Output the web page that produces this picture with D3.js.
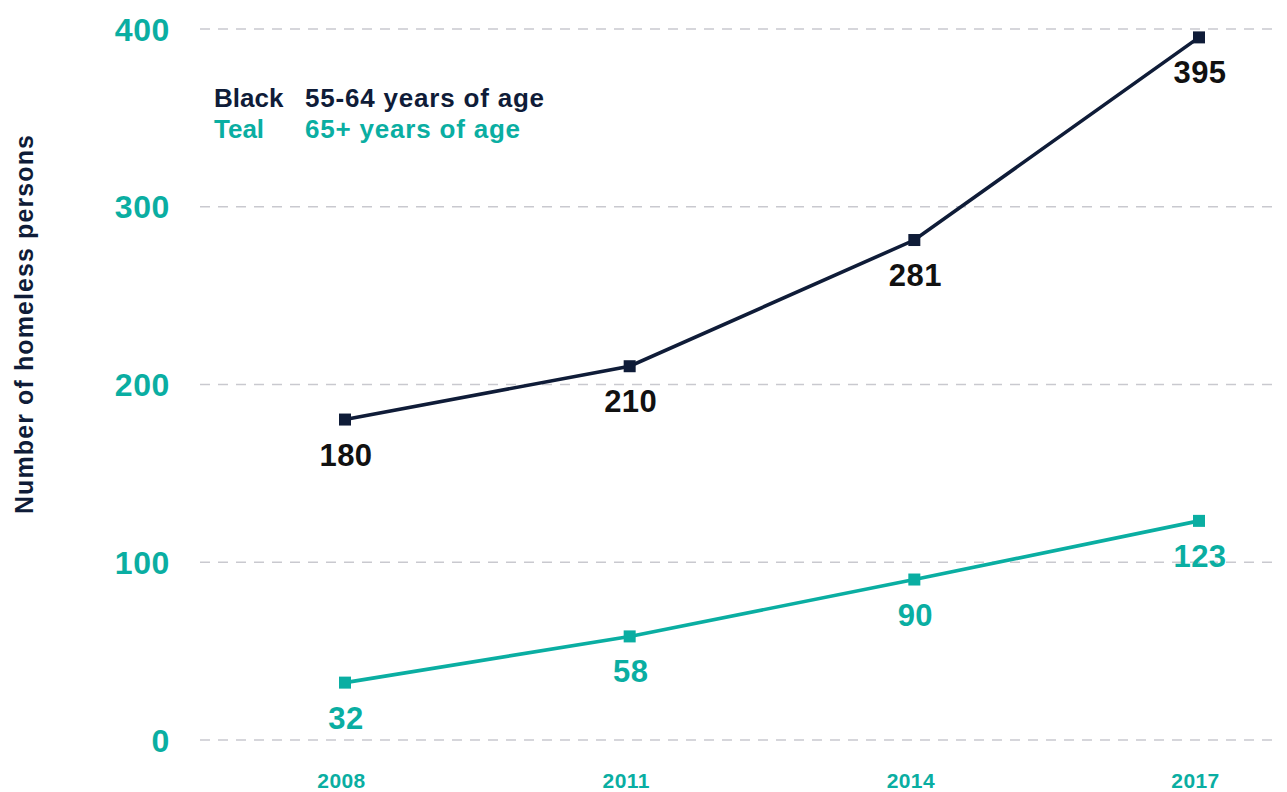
<!DOCTYPE html>
<html>
<head>
<meta charset="utf-8">
<script src="https://cdn.jsdelivr.net/npm/d3@7"></script>
<style>
  html, body { margin: 0; padding: 0; background: #fff; }
  svg { display: block; font-family: "Liberation Sans", Arial, sans-serif; }
</style>
</head>
<body>
<svg id="chart" width="1287" height="792"></svg>
<script>
const years = [2008, 2011, 2014, 2017];
const age55to64 = [180, 210, 281, 395];
const age65plus = [32, 58, 90, 123];
const yTicks = [0, 100, 200, 300, 400];
const legendKeys = ["Black", "Teal"];
const legendLabels = ["55-64 years of age", "65+ years of age"];
const yTitle = "Number of homeless persons";

const NAVY = "#0f1c38";
const TEAL = "#0aaea2";
const GRID = "#c9c9cf";
const FONT = "'Liberation Sans', Arial, sans-serif";

const svg = d3.select("#chart");

const x = d3.scalePoint().domain(years).range([345, 1199]);
const y = d3.scaleLinear().domain([0, 400]).range([739.5, 28.5]);

// gridlines
const grid = svg.append("g")
  .attr("transform", "translate(200,0)")
  .call(d3.axisRight(y).tickValues(yTicks).tickSize(1080).tickFormat(""));
grid.select(".domain").remove();
grid.selectAll("line")
  .attr("stroke", GRID)
  .attr("stroke-width", 1.3)
  .attr("stroke-dasharray", "10,8");

// y tick labels
const yAxis = svg.append("g")
  .attr("transform", "translate(170,0)")
  .call(d3.axisLeft(y).tickValues(yTicks).tickSize(0).tickPadding(0));
yAxis.select(".domain").remove();
yAxis.selectAll("text")
  .attr("fill", TEAL)
  .attr("font-size", 32)
  .attr("font-weight", "bold")
  .attr("font-family", FONT)
  .attr("letter-spacing", 0.6)
  .attr("dy", "0.36em");

// x tick labels
const xAxis = svg.append("g")
  .attr("transform", "translate(0,788)")
  .call(d3.axisBottom(x).tickSize(0).tickPadding(0));
xAxis.select(".domain").remove();
xAxis.selectAll("text")
  .attr("fill", TEAL)
  .attr("font-size", 21)
  .attr("font-weight", "bold")
  .attr("font-family", FONT)
  .attr("letter-spacing", 0.4)
  .attr("dy", 0)
  .attr("x", -4);

// y title
svg.append("text")
  .attr("transform", "translate(33,324) rotate(-90)")
  .attr("text-anchor", "middle")
  .attr("fill", NAVY)
  .attr("font-size", 25)
  .attr("font-weight", "bold")
  .attr("letter-spacing", 1.1)
  .text(yTitle);

// series
const series = [
  { values: age55to64, color: NAVY, labelColor: "#111111" },
  { values: age65plus, color: TEAL, labelColor: TEAL }
];

const line = d3.line().x((d, i) => x(years[i])).y(d => y(d));

series.forEach(s => {
  svg.append("path")
    .datum(s.values)
    .attr("d", line)
    .attr("fill", "none")
    .attr("stroke", s.color)
    .attr("stroke-width", 3.6);

  svg.selectAll(null)
    .data(s.values)
    .enter().append("rect")
    .attr("x", (d, i) => x(years[i]) - 6)
    .attr("y", d => y(d) - 6)
    .attr("width", 12)
    .attr("height", 12)
    .attr("fill", s.color);

  svg.selectAll(null)
    .data(s.values)
    .enter().append("text")
    .attr("x", (d, i) => x(years[i]) + 1)
    .attr("y", d => y(d) + 46)
    .attr("text-anchor", "middle")
    .attr("fill", s.labelColor)
    .attr("font-size", 31)
    .attr("font-weight", "bold")
    .attr("letter-spacing", 0.4)
    .text(d => d);
});

// legend
const legendColors = [NAVY, TEAL];
legendKeys.forEach((k, i) => {
  svg.append("text")
    .attr("x", 214)
    .attr("y", 107 + i * 31)
    .attr("fill", legendColors[i])
    .attr("font-size", 26)
    .attr("font-weight", "bold")
    .text(k);
  svg.append("text")
    .attr("x", 305)
    .attr("y", 107 + i * 31)
    .attr("fill", legendColors[i])
    .attr("font-size", 26)
    .attr("font-weight", "bold")
    .attr("letter-spacing", 0.8)
    .text(legendLabels[i]);
});
</script>
</body>
</html>
